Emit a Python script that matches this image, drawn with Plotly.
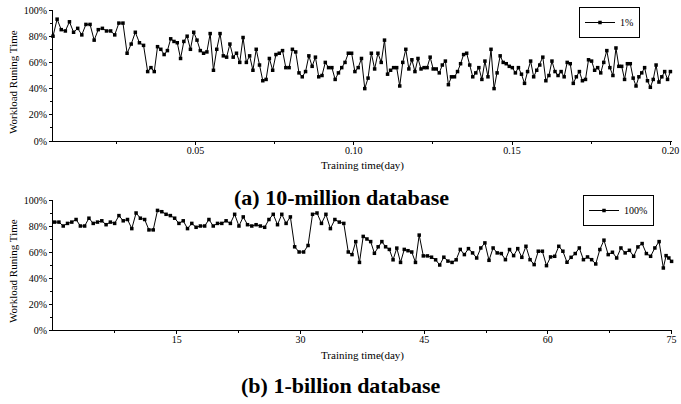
import numpy as np
import plotly.graph_objects as go

# ---- Data: (a) 10-million database, series "1%" ----
values_a = [
    80, 93, 85, 84, 91, 83, 86, 81, 89, 89, 77, 85, 86, 84, 84, 81, 90, 90, 67, 74,
    83, 75, 73, 53, 56, 53, 72, 70, 66, 69, 78, 76, 75, 63, 76, 80, 70, 83, 77, 69,
    67, 68, 82, 54, 70, 82, 65, 64, 74, 64, 67,
    60, 79, 60, 65, 54, 70, 58, 46, 47, 63, 54, 66, 67, 69, 56, 56, 70, 68, 52, 49,
    53, 65, 57, 64, 49, 50, 60, 56, 56, 47, 52, 56, 60, 67, 67, 53, 56, 63, 40, 48,
    67, 55, 67, 60, 77, 51, 54, 56, 56, 42, 60, 70, 55, 62, 53, 63, 55, 56, 56, 64,
    55, 55, 52, 58, 61, 43, 49, 49, 53,
    59, 66, 67, 58, 49, 52, 56, 47, 61, 49, 70, 40, 52, 65, 60, 59, 57, 56, 52, 56,
    51, 44, 53, 61, 49, 54, 58, 64, 46, 50, 61, 53, 50, 53, 49, 60, 59, 44, 49, 53,
    46, 47, 62, 61, 54, 56, 52, 60, 69, 56, 50, 71, 57, 57, 47, 59, 59, 48, 42, 49,
    52, 56, 46, 41, 47, 58, 45, 49, 53, 47, 53,
]
# time (day) at a few sample indices; samples in between are evenly spaced
anchor_idx_a = [0, 23, 95, 131, 171, 190]
anchor_day_a = [0.005, 0.0349, 0.1097, 0.1443, 0.1828, 0.2]
time_a = np.interp(np.arange(len(values_a)), anchor_idx_a, anchor_day_a)

# ---- Data: (b) 1-billion database, series "100%" ----
values_b = [
    83, 83, 80, 82, 83, 85, 80, 80, 86, 82, 83, 84, 81, 83, 82, 88, 84, 85, 78, 90,
    86, 85, 77, 77, 92, 91, 89, 88, 86, 82, 84, 78, 82, 79, 80, 80, 85, 80, 82,
    82, 84, 82, 89, 80, 87, 81, 80, 81, 80, 79, 85, 89, 81, 89, 82, 87, 64, 60, 60,
    65, 89, 90, 82, 89, 78, 85, 83, 82, 60, 58, 68, 52, 72, 70, 68, 59, 64, 68, 64,
    62, 54, 63, 52, 62, 61, 60, 52, 73, 57, 57, 56, 54, 50, 56, 53, 52, 54, 62, 58,
    62.6, 59.3, 55.4, 63.1, 67, 53.6, 63.1, 59.3, 58.8, 54.1, 61.9, 57.2, 62.6, 55.9,
    64.4, 54.1, 50.3, 60.6, 60.6, 49.5, 56.2, 56.7, 64.4, 60.6, 52.1, 55.9, 58.8, 63.1,
    54.1, 56.2, 54.1, 50.8, 61.9, 69.1, 58, 59.8, 55.4, 63.1, 59.3, 61.3, 56.7, 63.9,
    66.5, 58.8, 56.7, 63.1, 68, 47.7, 57.2, 55.4, 52.8,
]
anchor_idx_b = [0, 56, 68, 87, 132, 146, 149]
anchor_day_b = [0.2, 29.3, 35.8, 44.4, 66.8, 74.0, 75.0]
time_b = np.interp(np.arange(len(values_b)), anchor_idx_b, anchor_day_b)

ticks_a = [0.05, 0.10, 0.15, 0.20]
ticklabels_a = ["0.05", "0.10", "0.15", "0.20"]
minor_a = [0.025, 0.075, 0.125, 0.175]
ticks_b = [15, 30, 45, 60, 75]
ticklabels_b = ["15", "30", "45", "60", "75"]
minor_b = [7.5, 22.5, 37.5, 52.5, 67.5]
ticks_y = [0, 20, 40, 60, 80, 100]
ticklabels_y = ["0%", "20%", "40%", "60%", "80%", "100%"]
minor_y = [10, 30, 50, 70, 90]

FONT = "Liberation Serif"

fig = go.Figure()
fig.add_trace(go.Scatter(
    x=time_a, y=values_a, mode="lines+markers", name="1%",
    line=dict(color="black", width=1),
    marker=dict(symbol="square", size=3.5, color="black"),
    xaxis="x", yaxis="y", legend="legend", cliponaxis=False,
))
fig.add_trace(go.Scatter(
    x=time_b, y=values_b, mode="lines+markers", name="100%",
    line=dict(color="black", width=1),
    marker=dict(symbol="square", size=3.5, color="black"),
    xaxis="x2", yaxis="y2", legend="legend2", cliponaxis=False,
))

def axis_style(ticklen, standoff=0):
    return dict(
        showline=True, linecolor="black", linewidth=1, showgrid=False, zeroline=False,
        ticks="outside", ticklen=ticklen, tickwidth=1, tickcolor="black",
        tickfont=dict(family=FONT, size=10, color="black"),
        ticklabeloverflow="allow", automargin=False, ticklabelstandoff=standoff,
    )

TOP, BOT = 10, 330
H = BOT - TOP
def py(p):
    return (BOT - p) / H
def px(p):
    return (p - 53) / 619

def minor(vals):
    return dict(tickmode="array", tickvals=vals, ticks="outside", ticklen=2, tickcolor="black")

fig.update_layout(
    width=681, height=404,
    margin=dict(l=53, r=9, t=TOP, b=404 - BOT, autoexpand=False),
    paper_bgcolor="white", plot_bgcolor="white",
    font=dict(family=FONT, size=10, color="black"),
    xaxis=dict(domain=[0, 1], anchor="y", range=[0.005, 0.2005],
               tickmode="array", tickvals=ticks_a, ticktext=ticklabels_a,
               minor=minor(minor_a), **axis_style(3, -3)),
    yaxis=dict(domain=[py(141), 1.0], anchor="x", range=[0, 100],
               tickmode="array", tickvals=ticks_y, ticktext=ticklabels_y,
               minor=minor(minor_y), **axis_style(3)),
    xaxis2=dict(domain=[0, 1], anchor="y2", range=[0, 75.05],
                tickmode="array", tickvals=ticks_b, ticktext=ticklabels_b,
                minor=minor(minor_b), **axis_style(3, -3)),
    yaxis2=dict(domain=[0, py(200)], anchor="x2", range=[0, 100],
                tickmode="array", tickvals=ticks_y, ticktext=ticklabels_y,
                minor=minor(minor_y), **axis_style(3)),
    legend=dict(x=px(640), y=py(7), xanchor="right", yanchor="top",
                bordercolor="black", borderwidth=1, bgcolor="white",
                font=dict(family=FONT, size=10, color="black"),
                itemwidth=30, tracegroupgap=0),
    legend2=dict(x=px(654), y=py(195), xanchor="right", yanchor="top",
                 bordercolor="black", borderwidth=1, bgcolor="white",
                 font=dict(family=FONT, size=10, color="black"),
                 itemwidth=30, tracegroupgap=0),
    showlegend=True,
)

annos = [
    dict(text="Training time(day)", x=px(362), y=py(165), size=11, angle=0),
    dict(text="Training time(day)", x=px(362), y=py(355), size=11, angle=0),
    dict(text="Workload Runing Time", x=px(13), y=py(82), size=11, angle=-90),
    dict(text="Workload Runing Time", x=px(13), y=py(271), size=11, angle=-90),
    dict(text="<b>(a) 10-million database</b>", x=px(341), y=py(197), size=22, angle=0),
    dict(text="<b>(b) 1-billion database</b>", x=px(340), y=py(385), size=22, angle=0),
]
for a in annos:
    fig.add_annotation(
        text=a["text"], x=a["x"], y=a["y"], xref="paper", yref="paper",
        xanchor="center", yanchor="middle", showarrow=False, textangle=a["angle"],
        font=dict(family=FONT, size=a["size"], color="black"),
    )

fig.write_html("out.html", config={"displayModeBar": False},
               post_script="document.body.style.margin='0';")
